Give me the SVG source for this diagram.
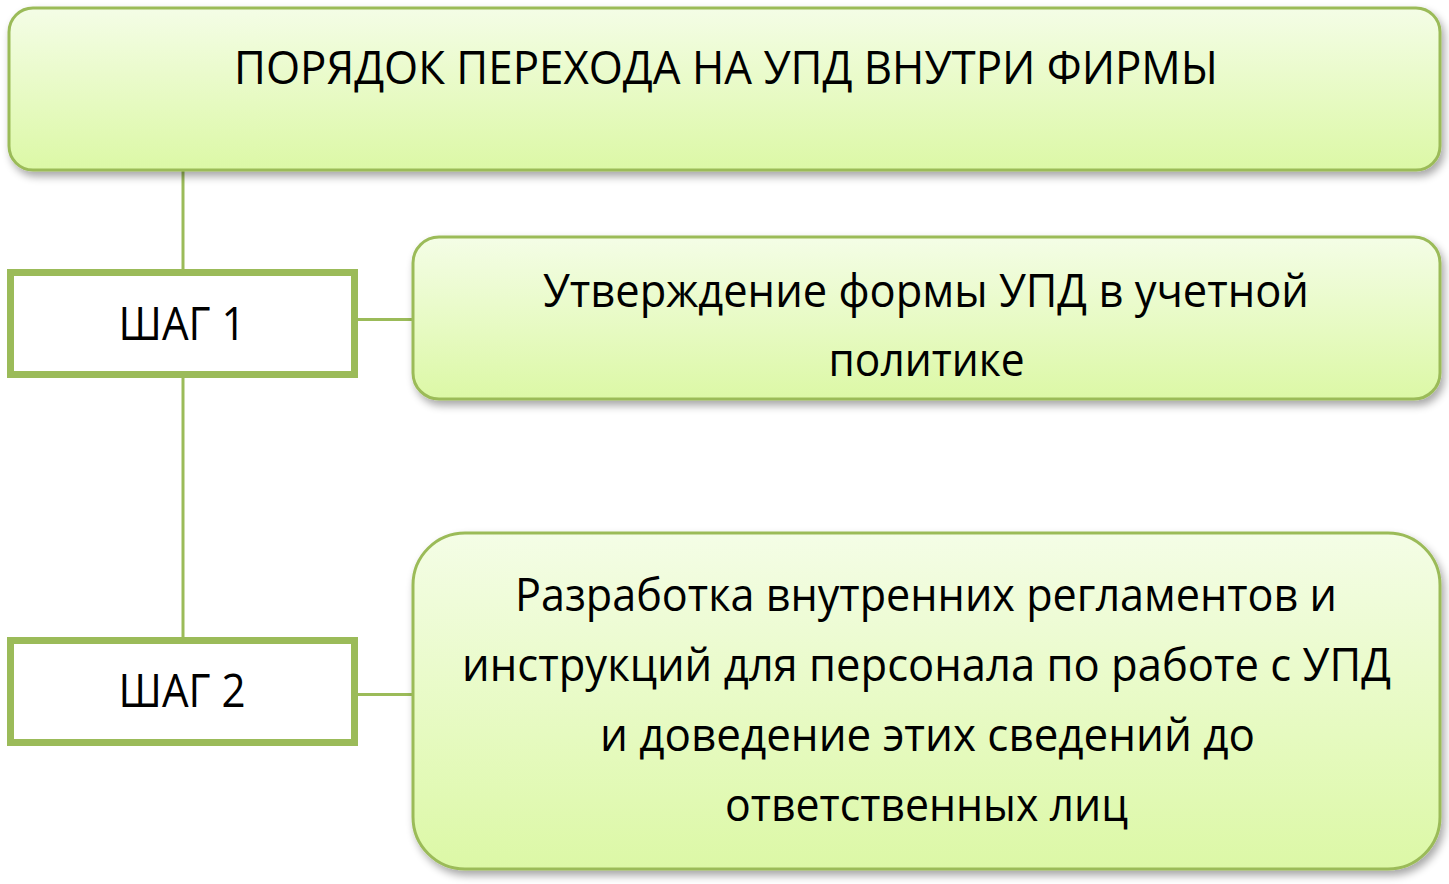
<svg xmlns="http://www.w3.org/2000/svg" width="1449" height="884" viewBox="0 0 1449 884">
<defs>
<linearGradient id="g" x1="0" y1="0" x2="0" y2="1">
<stop offset="0" stop-color="#f4fde6"/>
<stop offset="1" stop-color="#dcf8a6"/>
</linearGradient>
<filter id="sh" x="-5%" y="-10%" width="110%" height="130%">
<feGaussianBlur in="SourceAlpha" stdDeviation="4"/>
<feOffset dx="3" dy="5" result="b"/>
<feComponentTransfer><feFuncA type="linear" slope="0.35"/></feComponentTransfer>
<feMerge><feMergeNode/><feMergeNode in="SourceGraphic"/></feMerge>
</filter>
</defs>
<style>
.box{fill:url(#g);stroke:#9bbb59;stroke-width:3;filter:url(#sh)}
.step{fill:#ffffff;stroke:#9bbb59;stroke-width:7}
.ln{stroke:#9bbb59;stroke-width:3;fill:none}
text{font-family:"Open Sans","Liberation Sans",sans-serif;fill:#000;text-anchor:middle}
.t{font-size:45px}
</style>
<rect width="1449" height="884" fill="#ffffff"/>
<g id="connectors">
<line class="ln" x1="183" y1="171" x2="183" y2="270"/>
<line class="ln" x1="183" y1="378" x2="183" y2="638"/>
<line class="ln" x1="358" y1="319.5" x2="412" y2="319.5"/>
<line class="ln" x1="358" y1="694.5" x2="412" y2="694.5"/>
</g>
<g id="title">
<rect class="box" x="9" y="8" width="1431" height="162" rx="24"/>
<text class="t" x="726" y="84" textLength="984" lengthAdjust="spacingAndGlyphs">ПОРЯДОК ПЕРЕХОДА НА УПД ВНУТРИ ФИРМЫ</text>
</g>
<g id="step1">
<rect class="step" x="10.5" y="272.5" width="344" height="102"/>
<text class="t" x="182" y="340" textLength="127" lengthAdjust="spacingAndGlyphs">ШАГ 1</text>
</g>
<g id="step2">
<rect class="step" x="10.5" y="640.5" width="344" height="102"/>
<text class="t" x="182" y="707" textLength="127" lengthAdjust="spacingAndGlyphs">ШАГ 2</text>
</g>
<g id="desc1">
<rect class="box" x="413" y="237" width="1027" height="162" rx="26"/>
<text class="t" x="926" y="307" textLength="766" lengthAdjust="spacingAndGlyphs">Утверждение формы УПД в учетной</text>
<text class="t" x="926.5" y="376" textLength="196" lengthAdjust="spacingAndGlyphs">политике</text>
</g>
<g id="desc2">
<rect class="box" x="413" y="533" width="1027" height="336" rx="52"/>
<text class="t" x="926" y="611" textLength="822" lengthAdjust="spacingAndGlyphs">Разработка внутренних регламентов и</text>
<text class="t" x="926.5" y="681" textLength="929" lengthAdjust="spacingAndGlyphs">инструкций для персонала по работе с УПД</text>
<text class="t" x="927.5" y="751" textLength="655" lengthAdjust="spacingAndGlyphs">и доведение этих сведений до</text>
<text class="t" x="926.5" y="821" textLength="403" lengthAdjust="spacingAndGlyphs">ответственных лиц</text>
</g>
</svg>
